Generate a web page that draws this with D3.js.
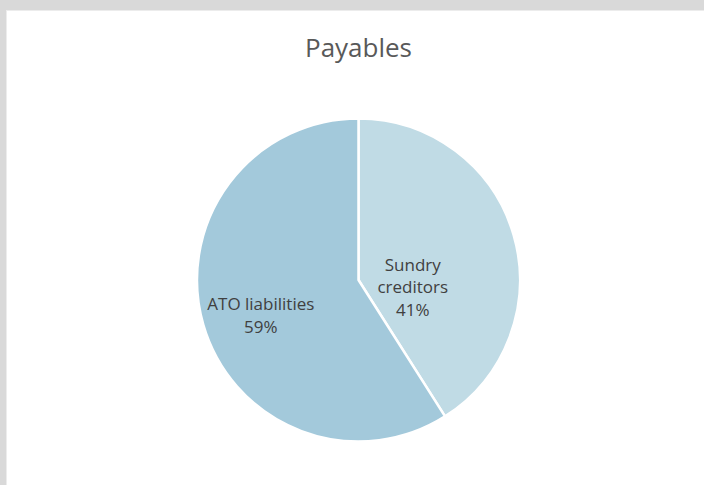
<!DOCTYPE html>
<html>
<head>
<meta charset="UTF-8" />
<title>Payables</title>
<script src="https://d3js.org/d3.v7.min.js"></script>
<style>
  html, body { margin: 0; padding: 0; background: #d9d9d9; }
  svg { display: block; }
</style>
</head>
<body>
<script>
  // chart data
  var categories = ["Sundry creditors", "ATO liabilities"];
  var values = [41, 59];
  var labelLines = [["Sundry", "creditors", "41%"], ["ATO liabilities", "59%"]];
  var colors = ["#c0dbe5", "#a3c9db"];

  var W = 704, H = 485;
  var cx = 358.5, cy = 280, r = 161.5;

  var svg = d3.select("body").append("svg")
      .attr("width", W)
      .attr("height", H);

  // white chart area (gray frame shows at top and left)
  svg.append("rect").attr("x", 6).attr("y", 10).attr("width", W - 6).attr("height", H - 10)
      .attr("fill", "#ececec");
  svg.append("rect").attr("x", 7).attr("y", 11).attr("width", W - 7).attr("height", H - 11)
      .attr("fill", "#ffffff");

  svg.append("text")
      .attr("x", cx).attr("y", 57)
      .attr("text-anchor", "middle")
      .attr("font-family", "Open Sans, sans-serif")
      .attr("font-size", 26)
      .attr("fill", "#595959")
      .text("Payables");

  var pie = d3.pie().sort(null).value(function(d) { return d; });
  var arc = d3.arc().innerRadius(0).outerRadius(r);

  var g = svg.append("g").attr("transform", "translate(" + cx + "," + cy + ")");
  var arcs = pie(values);

  g.selectAll("path").data(arcs).enter().append("path")
      .attr("d", arc)
      .attr("fill", function(d, i) { return colors[i]; })
      .attr("stroke", "#ffffff")
      .attr("stroke-width", 2.5)
      .attr("stroke-linejoin", "round");

  // label placement: centroid at a fraction of the radius, nudged down (best-fit look)
  var labelFrac = [0.35, 0.63];
  var labelDy = [23, 7];
  var lineH = 22.5;
  g.selectAll("text.lbl").data(arcs).enter().append("text")
      .attr("class", "lbl")
      .attr("text-anchor", "middle")
      .attr("font-family", "Open Sans, sans-serif")
      .attr("font-size", 17)
      .attr("fill", "#404040")
      .each(function(d, i) {
        var la = d3.arc().innerRadius(r * labelFrac[i]).outerRadius(r * labelFrac[i]);
        var c = la.centroid(d);
        var lines = labelLines[i];
        var t = d3.select(this);
        var y0 = c[1] + labelDy[i] - (lines.length - 1) * lineH / 2 + 6;
        lines.forEach(function(s, k) {
          t.append("tspan").attr("x", c[0]).attr("y", y0 + k * lineH).text(s);
        });
      });
</script>
</body>
</html>
